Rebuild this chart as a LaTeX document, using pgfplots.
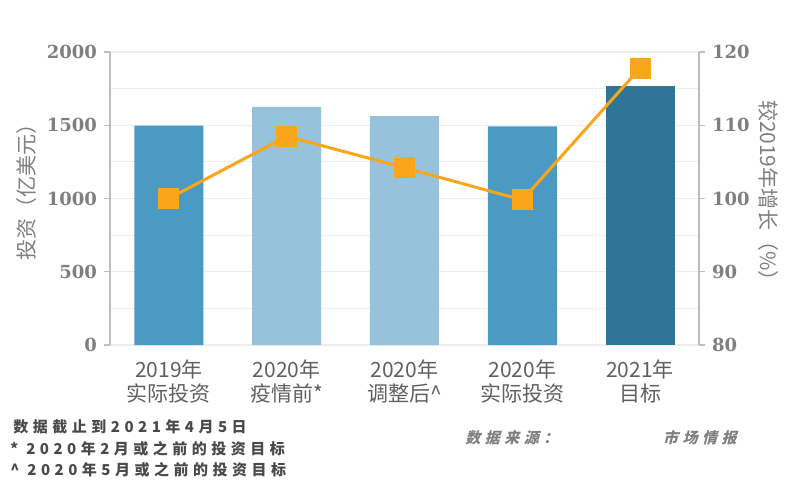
\documentclass[border=0pt]{standalone}
\usepackage{fontspec}
\usepackage{pgfplots}
\pgfplotsset{compat=1.18}
\newfontfamily\cjk{Noto Sans CJK SC}
\newfontfamily\cjkfoot[LetterSpace=30]{Noto Sans CJK SC}
\newfontfamily\cjkslant[FakeSlant=0.25,LetterSpace=30]{Noto Sans CJK SC}
\newfontfamily\numfont{DejaVu Serif}

\definecolor{barmid}{HTML}{4A9AC4}
\definecolor{barlight}{HTML}{96C2DB}
\definecolor{bardark}{HTML}{2E7597}
\definecolor{lineorange}{HTML}{F9A61A}
\definecolor{ticktext}{HTML}{7F7F7F}
\definecolor{xlabtext}{HTML}{606060}
\definecolor{axisgray}{HTML}{BDBDBD}
\definecolor{gridgray}{HTML}{EDEDED}
\definecolor{foottext}{HTML}{4A4A4A}

\pgfplotsset{
  twin/.style={
    at={(0,0)}, anchor=south west, scale only axis,
    width=294.5pt, height=146.5pt,
    xmin=-0.5, xmax=4.5,
    tick align=outside, major tick length=3pt, minor tick length=0pt,
    major y tick style={axisgray, line width=0.6pt},
    y axis line style={axisgray, line width=0.8pt, -},
    yticklabel style={font=\numfont\bfseries\fontsize{9}{10}\selectfont, text=ticktext},
    /pgf/number format/assume math mode=true,
    /pgf/number format/1000 sep={},
  }
}

\begin{document}
\begin{tikzpicture}
\begin{axis}[
  twin,
  ymin=0, ymax=2000,
  axis y line*=left, axis x line*=bottom,
  x axis line style={draw=none},
  xtick={0,1,2,3,4},
  xticklabels={{2019年\\实际投资},{2020年\\疫情前*},{2020年\\调整后\textasciicircum},{2020年\\实际投资},{2021年\\目标}},
  major x tick style={draw=none},
  xticklabel style={align=center, font=\cjk\fontsize{10.5}{12}\selectfont, text=xlabtext, yshift=-1pt},
  ytick={0,500,1000,1500,2000},
  minor ytick={250,750,1250,1750},
  ymajorgrids, yminorgrids,
  major grid style={gridgray, line width=0.6pt},
  minor grid style={gridgray, line width=0.6pt},
  ybar, bar width=34.5pt, bar shift=0pt,
]
\addplot[fill=barmid, draw=none] coordinates {(0,1497) (3,1492)};
\addplot[fill=barlight, draw=none] coordinates {(1,1625) (2,1562)};
\addplot[fill=bardark, draw=none] coordinates {(4,1765)};
\end{axis}
\begin{axis}[
  twin,
  ymin=80, ymax=120,
  axis x line=none, axis y line*=right,
  ytick={80,90,100,110,120},
]
\addplot[lineorange, line width=1.5pt, mark=square*, mark size=4.5pt,
  mark options={solid, fill=lineorange, draw=lineorange}]
  coordinates {(0,100) (1,108.5) (2,104.2) (3,99.8) (4,117.8)};
\end{axis}
\begin{scope}[shift={(-55pt,172.5pt)}, x=0.5pt, y=-0.5pt]
  \node[rotate=90, text=ticktext, font=\cjk\fontsize{10.5}{12}\selectfont] at (27,187) {投资（亿美元）};
  \node[rotate=-90, text=ticktext, font=\cjk\fontsize{10.5}{12}\selectfont] at (768,196) {较2019年增长（\%）};
  \node[anchor=west, inner sep=0pt, text=foottext, font=\cjkfoot\bfseries\fontsize{7.5}{9}\selectfont] at (13,427) {数据截止到2021年4月5日};
  \node[anchor=west, inner sep=0pt, text=foottext, font=\cjkfoot\bfseries\fontsize{7.5}{9}\selectfont] at (10,449) {* 2020年2月或之前的投资目标};
  \node[anchor=west, inner sep=0pt, text=foottext, font=\cjkfoot\bfseries\fontsize{7.5}{9}\selectfont] at (10,470) {\textasciicircum\ 2020年5月或之前的投资目标};
  \node[anchor=west, inner sep=0pt, text=ticktext, font=\cjkslant\bfseries\fontsize{7.5}{9}\selectfont] at (465,438) {数据来源：};
  \node[anchor=east, inner sep=0pt, text=ticktext, font=\cjkslant\bfseries\fontsize{7.5}{9}\selectfont] at (737,438) {市场情报};
  \pgfresetboundingbox
  \path[use as bounding box] (0,0) rectangle (800,500);
\end{scope}
\end{tikzpicture}
\end{document}
